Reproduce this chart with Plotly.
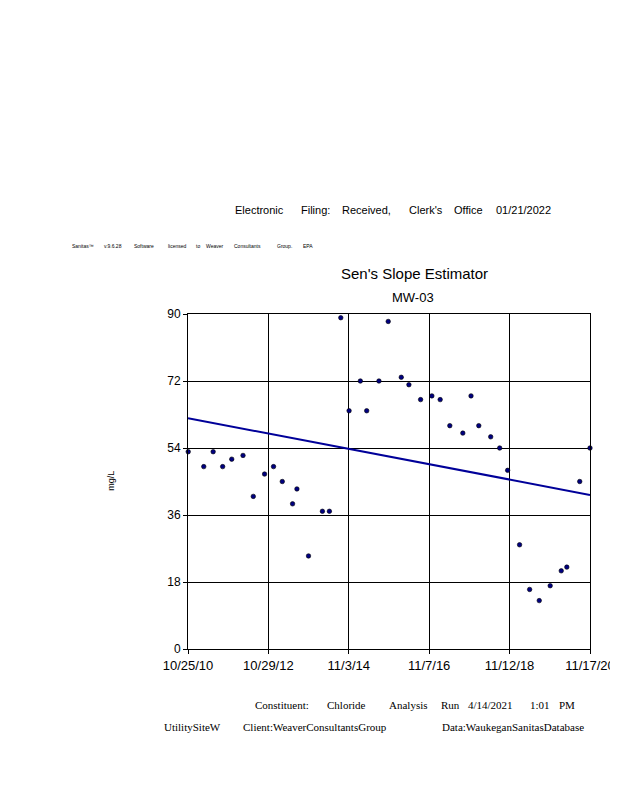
import plotly.graph_objects as go

# ---- data ----
dates = ["2010-10-27", "2011-03-18", "2011-06-12", "2011-09-07", "2011-11-29", "2012-03-11",
         "2012-06-13", "2012-09-24", "2012-12-15", "2013-03-05", "2013-06-07", "2013-07-17",
         "2013-10-31", "2014-03-07", "2014-05-10", "2014-08-22", "2014-11-06", "2015-02-17",
         "2015-04-16", "2015-08-06", "2015-10-30", "2016-02-26", "2016-05-06", "2016-08-21",
         "2016-12-02", "2017-02-16", "2017-05-15", "2017-09-11", "2017-11-25", "2018-02-04",
         "2018-05-24", "2018-08-14", "2018-10-26", "2019-02-12", "2019-05-15", "2019-08-11",
         "2019-11-19", "2020-02-28", "2020-04-19", "2020-08-15", "2020-11-17"]
chloride = [53, 49, 53, 49, 51, 52,
            41, 47, 49, 45, 39, 43,
            25, 37, 37, 89, 64, 72,
            64, 72, 88, 73, 71, 67,
            68, 67, 60, 58, 68, 60,
            57, 54, 48, 28, 16, 13,
            17, 21, 22, 45, 54]
trend_dates = ["2010-10-25", "2020-11-17"]
trend_values = [62.0, 41.4]

x_tick_vals = ["2010-10-25", "2012-10-29", "2014-11-03", "2016-11-07", "2018-11-12", "2020-11-17"]
x_tick_text = ["10/25/10", "10/29/12", "11/3/14", "11/7/16", "11/12/18", "11/17/20"]
y_tick_vals = [0, 18, 36, 54, 72, 90]

header_words = ["Electronic", "Filing:", "Received,", "Clerk's", "Office", "01/21/2022"]
software_words = ["Sanitas\u2122", "v.9.6.28", "Software", "licensed", "to", "Weaver",
                  "Consultants", "Group.", "EPA"]
footer1_words = ["Constituent:", "Chloride", "Analysis", "Run", "4/14/2021", "1:01", "PM"]
footer2_words = ["UtilitySiteW", "Client:WeaverConsultantsGroup", "Data:WaukeganSanitasDatabase"]

# ---- layout geometry (page pixels; the page body has an 8px margin) ----
OFF = 8
W, H = 618 - OFF, 770
L, R, T, B = 187.5, 590.5, 314, 649


def px(x):
    return (x - L) / (R - L)


def py(y):
    return (B - y) / (B - T)


fig = go.Figure()
fig.add_trace(go.Scatter(x=trend_dates, y=trend_values, mode="lines",
                         line=dict(color="#000099", width=2), hoverinfo="skip",
                         showlegend=False))
fig.add_trace(go.Scatter(x=dates, y=chloride, mode="markers",
                         marker=dict(color="#000080", size=4.5, symbol="circle",
                                     line=dict(color="#000000", width=0.6)),
                         cliponaxis=False, showlegend=False))

anns = []


def word_row(words, xs, y, size, family, color="#000000"):
    for w, x in zip(words, xs):
        anns.append(dict(text=w, x=px(x), y=py(y), xref="paper", yref="paper",
                         xanchor="left", yanchor="middle", showarrow=False,
                         font=dict(size=size, family=family, color=color)))


word_row(header_words, [233, 299, 340, 407, 452, 494], 210, 11, "Liberation Sans")
word_row(software_words, [69, 101, 131, 165, 194, 204, 232, 275, 301], 246, 5, "Liberation Sans")
word_row(footer1_words, [253, 325, 387, 439, 466, 528, 557], 705, 11, "Liberation Serif")
word_row(footer2_words, [161, 241, 440], 727, 11, "Liberation Serif")

anns.append(dict(text="Sen's Slope Estimator", x=px(414.5), y=py(273), xref="paper", yref="paper",
                 xanchor="center", yanchor="middle", showarrow=False,
                 font=dict(size=15, family="Liberation Sans", color="#000000")))
anns.append(dict(text="MW-03", x=px(413.5), y=py(297), xref="paper", yref="paper",
                 xanchor="center", yanchor="middle", showarrow=False,
                 font=dict(size=13, family="Liberation Sans", color="#000000")))
anns.append(dict(text="mg/L", x=px(110), y=py(481), xref="paper", yref="paper",
                 xanchor="center", yanchor="middle", showarrow=False, textangle=-90,
                 font=dict(size=9, family="Liberation Sans", color="#000000")))

fig.update_layout(
    width=W, height=H,
    margin=dict(l=L - OFF, r=W - (R - OFF), t=T - OFF, b=H - (B - OFF), pad=0, autoexpand=False),
    paper_bgcolor="white", plot_bgcolor="white",
    annotations=anns,
    font=dict(family="Liberation Sans", color="#000000"),
)
fig.update_xaxes(type="date", range=[x_tick_vals[0], x_tick_vals[-1]],
                 tickmode="array", tickvals=x_tick_vals, ticktext=x_tick_text,
                 ticklabeloverflow="allow", automargin=False,
                 showgrid=True, gridcolor="#000000", gridwidth=1,
                 showline=True, linecolor="#000000", linewidth=1, mirror=True,
                 ticks="outside", ticklen=4, tickcolor="#000000",
                 tickfont=dict(size=13, family="Liberation Sans", color="#000000"),
                 zeroline=False, fixedrange=True)
fig.update_yaxes(range=[0, 90], tickmode="array", tickvals=y_tick_vals,
                 automargin=False,
                 showgrid=True, gridcolor="#000000", gridwidth=1,
                 showline=True, linecolor="#000000", linewidth=1, mirror=True,
                 ticks="outside", ticklen=4, tickcolor="#000000",
                 tickfont=dict(size=12, family="Liberation Sans", color="#000000"),
                 zeroline=False, fixedrange=True)

fig.write_html("out.html")
